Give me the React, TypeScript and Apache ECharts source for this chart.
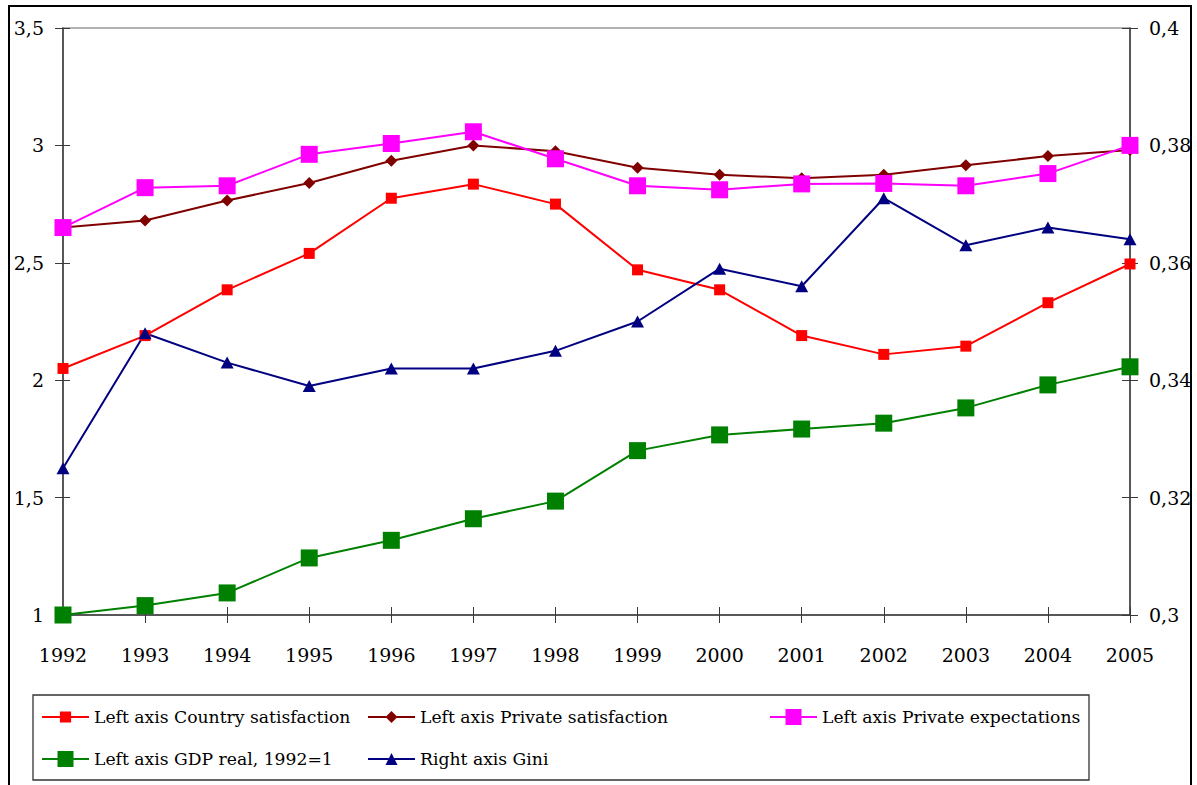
import React, { useEffect, useRef } from "react";
import * as echarts from "echarts";

const years = ["1992","1993","1994","1995","1996","1997","1998","1999","2000","2001","2002","2003","2004","2005"];
const countrySatisfaction = [2.05, 2.19, 2.385, 2.54, 2.775, 2.835, 2.75, 2.47, 2.385, 2.19, 2.11, 2.145, 2.33, 2.495];
const privateSatisfaction = [2.65, 2.68, 2.765, 2.84, 2.935, 3.0, 2.975, 2.905, 2.875, 2.86, 2.875, 2.915, 2.955, 2.98];
const privateExpectations = [2.65, 2.82, 2.828, 2.962, 3.008, 3.058, 2.943, 2.828, 2.811, 2.836, 2.838, 2.828, 2.88, 3.0];
const gdpReal = [1.0, 1.04, 1.094, 1.243, 1.318, 1.41, 1.485, 1.7, 1.767, 1.792, 1.817, 1.882, 1.98, 2.057];
const gini = [0.325, 0.348, 0.343, 0.339, 0.342, 0.342, 0.345, 0.35, 0.359, 0.356, 0.371, 0.363, 0.366, 0.364];

const names = [
  "Left axis Country satisfaction",
  "Left axis Private satisfaction",
  "Left axis Private expectations",
  "Left axis GDP real, 1992=1",
  "Right axis Gini",
];

const FONT = "DejaVu Serif";
const AX = "#3a3a3a";

const fmt = (v: number) => String(Number(v.toFixed(2))).replace(".", ",");

export default function App() {
  const ref = useRef<HTMLDivElement>(null);
  useEffect(() => {
    document.body.style.margin = "0";
    const chart = echarts.init(ref.current!, null, { renderer: "svg" });
    const textStyle = { fontFamily: FONT, fontSize: 17.2, color: "#000", lineHeight: 20 };
    const legendItem = (name: string, left: number, top: number, itemHeight: number) => ({
      data: [name],
      left,
      top,
      padding: 0,
      itemWidth: 47,
      itemHeight,
      selectedMode: false,
      textStyle,
    });
    const xBase = {
      type: "category" as const,
      data: years,
      boundaryGap: false,
      position: "bottom" as const,
      axisLine: { show: true, lineStyle: { color: AX, width: 1.5 } },
      splitLine: { show: false },
    };
    const yLeft = { type: "value" as const, min: 1, max: 3.5, interval: 0.5, position: "left" as const };
    const yRight = { type: "value" as const, min: 0.3, max: 0.4, interval: 0.02, position: "right" as const };
    const lbl = { fontFamily: FONT, fontSize: 19, color: "#000", formatter: fmt, margin: 19 };
    chart.setOption({
      animation: false,
      backgroundColor: "#fff",
      textStyle: { fontFamily: FONT },
      grid: { left: 63, right: 67, top: 28, bottom: 170, show: true, borderColor: "#999", borderWidth: 1.5, backgroundColor: "transparent" },
      xAxis: [
        {
          ...xBase,
          axisTick: { show: true, inside: false, length: 8, lineStyle: { color: AX } },
          axisLabel: { fontFamily: FONT, fontSize: 19, color: "#000", margin: 30, interval: 0 },
        },
        {
          ...xBase,
          axisLine: { show: false },
          axisTick: { show: true, inside: true, length: 8, lineStyle: { color: AX } },
          axisLabel: { show: false },
        },
      ],
      yAxis: [
        {
          ...yLeft,
          axisLine: { show: true, lineStyle: { color: AX, width: 1.5 } },
          axisTick: { show: true, length: 8, lineStyle: { color: AX } },
          axisLabel: lbl,
          splitLine: { show: false },
        },
        {
          ...yRight,
          axisLine: { show: true, lineStyle: { color: AX, width: 1.5 } },
          axisTick: { show: true, length: 8, lineStyle: { color: AX } },
          axisLabel: lbl,
          splitLine: { show: false },
        },
        {
          ...yLeft,
          axisLine: { show: false },
          axisTick: { show: true, inside: true, length: 7, lineStyle: { color: AX } },
          axisLabel: { show: false },
          splitLine: { show: false },
        },
        {
          ...yRight,
          axisLine: { show: false },
          axisTick: { show: true, inside: true, length: 8, lineStyle: { color: AX } },
          axisLabel: { show: false },
          splitLine: { show: false },
        },
      ],
      legend: [
        legendItem(names[0], 41, 707, 14),
        legendItem(names[1], 367, 707, 15),
        legendItem(names[2], 769, 707, 20),
        legendItem(names[3], 41, 749, 20),
        legendItem(names[4], 367, 749, 15),
      ],
      graphic: [
        { type: "rect", shape: { x: 9, y: 6, width: 1182, height: 800 }, style: { fill: "none", stroke: "#000", lineWidth: 2 }, silent: true },
        { type: "rect", shape: { x: 33, y: 695, width: 1056, height: 85 }, style: { fill: "none", stroke: "#333", lineWidth: 1.3 }, silent: true },
      ],
      series: [
        {
          name: names[0], type: "line", data: countrySatisfaction, yAxisIndex: 0,
          symbol: "rect", symbolSize: 11,
          lineStyle: { color: "#FF0000", width: 2 }, itemStyle: { color: "#FF0000", borderWidth: 0 },
        },
        {
          name: names[1], type: "line", data: privateSatisfaction, yAxisIndex: 0,
          symbol: "diamond", symbolSize: [12, 12],
          lineStyle: { color: "#800000", width: 2 }, itemStyle: { color: "#800000", borderWidth: 0 },
        },
        {
          name: names[2], type: "line", data: privateExpectations, yAxisIndex: 0,
          symbol: "rect", symbolSize: 17,
          lineStyle: { color: "#FF00FF", width: 2 }, itemStyle: { color: "#FF00FF", borderWidth: 0 },
        },
        {
          name: names[3], type: "line", data: gdpReal, yAxisIndex: 0,
          symbol: "rect", symbolSize: 17,
          lineStyle: { color: "#008000", width: 2 }, itemStyle: { color: "#008000", borderWidth: 0 },
        },
        {
          name: names[4], type: "line", data: gini, yAxisIndex: 1,
          symbol: "triangle", symbolSize: [13, 12],
          lineStyle: { color: "#000080", width: 2 }, itemStyle: { color: "#000080", borderWidth: 0 },
        },
      ],
    });
    return () => chart.dispose();
  }, []);
  return <div ref={ref} style={{ width: 1197, height: 785 }} />;
}
